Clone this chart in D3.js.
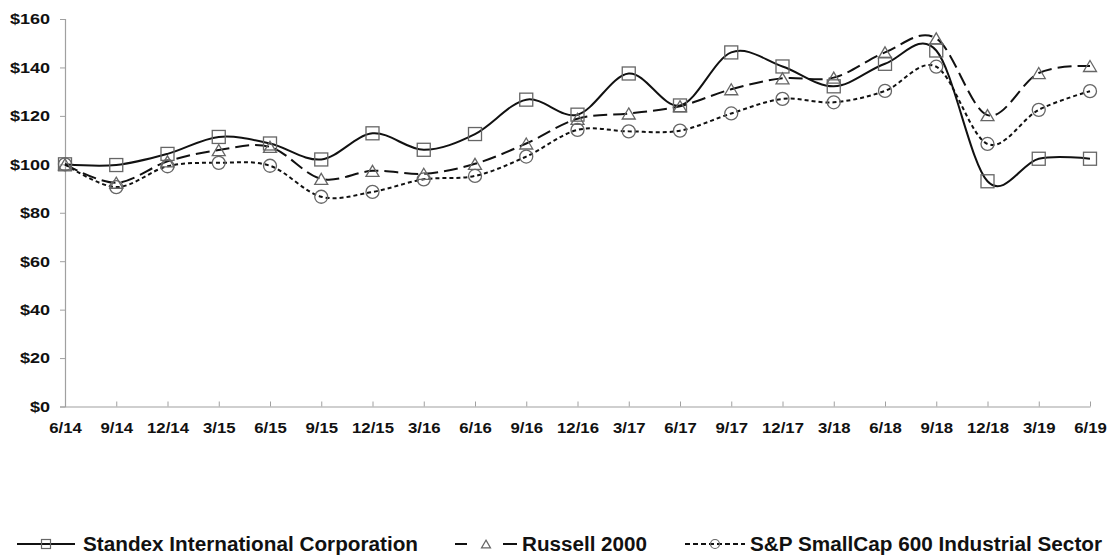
<!DOCTYPE html>
<html><head><meta charset="utf-8">
<script src="https://cdn.jsdelivr.net/npm/d3@7"></script>
<style>body{margin:0;background:#fff}svg{display:block}</style>
</head><body>
<svg id="c" width="1109" height="557"></svg>
<script>
const categories = ["6/14","9/14","12/14","3/15","6/15","9/15","12/15","3/16","6/16","9/16","12/16","3/17","6/17","9/17","12/17","3/18","6/18","9/18","12/18","3/19","6/19"];
const standex = [100,99.7,104.3,111.3,108.6,102,112.8,106,112.5,126.7,120.5,137.5,124.3,146.2,140.4,132.2,141.5,147,93,102.3,102.3];
const russell = [100,92.4,101.2,105.9,107.2,94,97.3,96.1,100.2,108.6,118.8,121,124,131,135.5,135.8,146.2,152,120.3,137.7,140.6];
const sp600 = [100,90.6,99.2,100.6,99.4,86.6,88.6,93.8,95.2,103.2,114.2,113.6,113.9,121,127,125.6,130.3,140.3,108.4,122.5,130.2];
const yTicks = [0,20,40,60,80,100,120,140,160];
const seriesNames = ["Standex International Corporation","Russell 2000","S&P SmallCap 600 Industrial Sector"];

const svg = d3.select("#c");
const x = d3.scalePoint().domain(categories).range([65,1090]);
const y = d3.scaleLinear().domain([0,160]).range([406.5,19]);
const font = "'Liberation Sans', Arial, sans-serif";

function stretch(sel, k){
  sel.each(function(){
    const w = this.getComputedTextLength();
    d3.select(this).attr("textLength", w*k).attr("lengthAdjust","spacingAndGlyphs");
  });
}

// y axis
const ya = svg.append("g").attr("transform","translate(65,0)")
  .call(d3.axisLeft(y).tickValues(yTicks).tickSize(5).tickPadding(10).tickFormat(d=>"$"+d));
ya.select(".domain").attr("stroke","#a0a0a0").attr("stroke-width",1.2);
ya.selectAll(".tick line").attr("stroke","#a0a0a0");
ya.selectAll("text").attr("font-family",font).attr("font-weight","bold").attr("font-size","15px").attr("fill","#111");
stretch(ya.selectAll("text"), 1.2);

// x axis
const xa = svg.append("g").attr("transform",`translate(0,${y(0)})`)
  .call(d3.axisBottom(x).tickSize(-5).tickPadding(10).tickSizeOuter(0));
xa.select(".domain").attr("stroke","#a0a0a0").attr("stroke-width",1.2);
xa.selectAll(".tick line").attr("stroke","#a0a0a0");
xa.selectAll("text").attr("font-family",font).attr("font-weight","bold").attr("font-size","15.5px").attr("fill","#111").attr("dy","1.05em");
stretch(xa.selectAll("text"), 1.08);

const line = d3.line().x((d,i)=>x(categories[i])).y(d=>y(d)).curve(d3.curveCardinal.tension(0));

const styles = [
  {data:standex, dash:null, marker:"square"},
  {data:russell, dash:"14,6", marker:"triangle"},
  {data:sp600, dash:"4,3", marker:"circle"}
];

function drawMarker(g, type, cx, cy, s, sw){
  if(type==="square"){
    g.append("rect").attr("x",cx-s/2).attr("y",cy-s/2).attr("width",s).attr("height",s)
      .attr("fill","none").attr("stroke","#666").attr("stroke-width",sw);
  } else if(type==="triangle"){
    const h = s*0.85;
    g.append("path").attr("d",`M${cx},${cy-h/2}L${cx+s/2},${cy+h/2}L${cx-s/2},${cy+h/2}Z`)
      .attr("fill","none").attr("stroke","#666").attr("stroke-width",sw);
  } else {
    g.append("circle").attr("cx",cx).attr("cy",cy).attr("r",s/2)
      .attr("fill","none").attr("stroke","#666").attr("stroke-width",sw);
  }
}

styles.slice().reverse().forEach(st=>{
  svg.append("path").datum(st.data).attr("d",line).attr("fill","none")
    .attr("stroke","#111").attr("stroke-width",2).attr("stroke-dasharray",st.dash);
});
styles.forEach(st=>{
  const g = svg.append("g");
  st.data.forEach((v,i)=>drawMarker(g, st.marker, x(categories[i]), y(v), 13, 1.3));
});

// legend
const leg = [
  {x0:17,x1:75,tx:83,tw:335,dash:null},
  {x0:455,x1:517,tx:522,tw:125,dash:"12,36,14"},
  {x0:685,x1:745,tx:750,tw:352,dash:"5,3"}
];
const ly = 544;
styles.forEach((st,i)=>{
  const L = leg[i];
  svg.append("line").attr("x1",L.x0).attr("x2",L.x1).attr("y1",ly).attr("y2",ly)
    .attr("stroke","#111").attr("stroke-width",2).attr("stroke-dasharray",L.dash);
  drawMarker(svg, st.marker, (L.x0+L.x1)/2, ly, 9, 1.2);
  svg.append("text").attr("x",L.tx).attr("y",ly+7).text(seriesNames[i])
    .attr("font-family",font).attr("font-weight","bold").attr("font-size","19.5px").attr("fill","#111")
    .attr("textLength",L.tw).attr("lengthAdjust","spacingAndGlyphs");
});
</script>
</body></html>
